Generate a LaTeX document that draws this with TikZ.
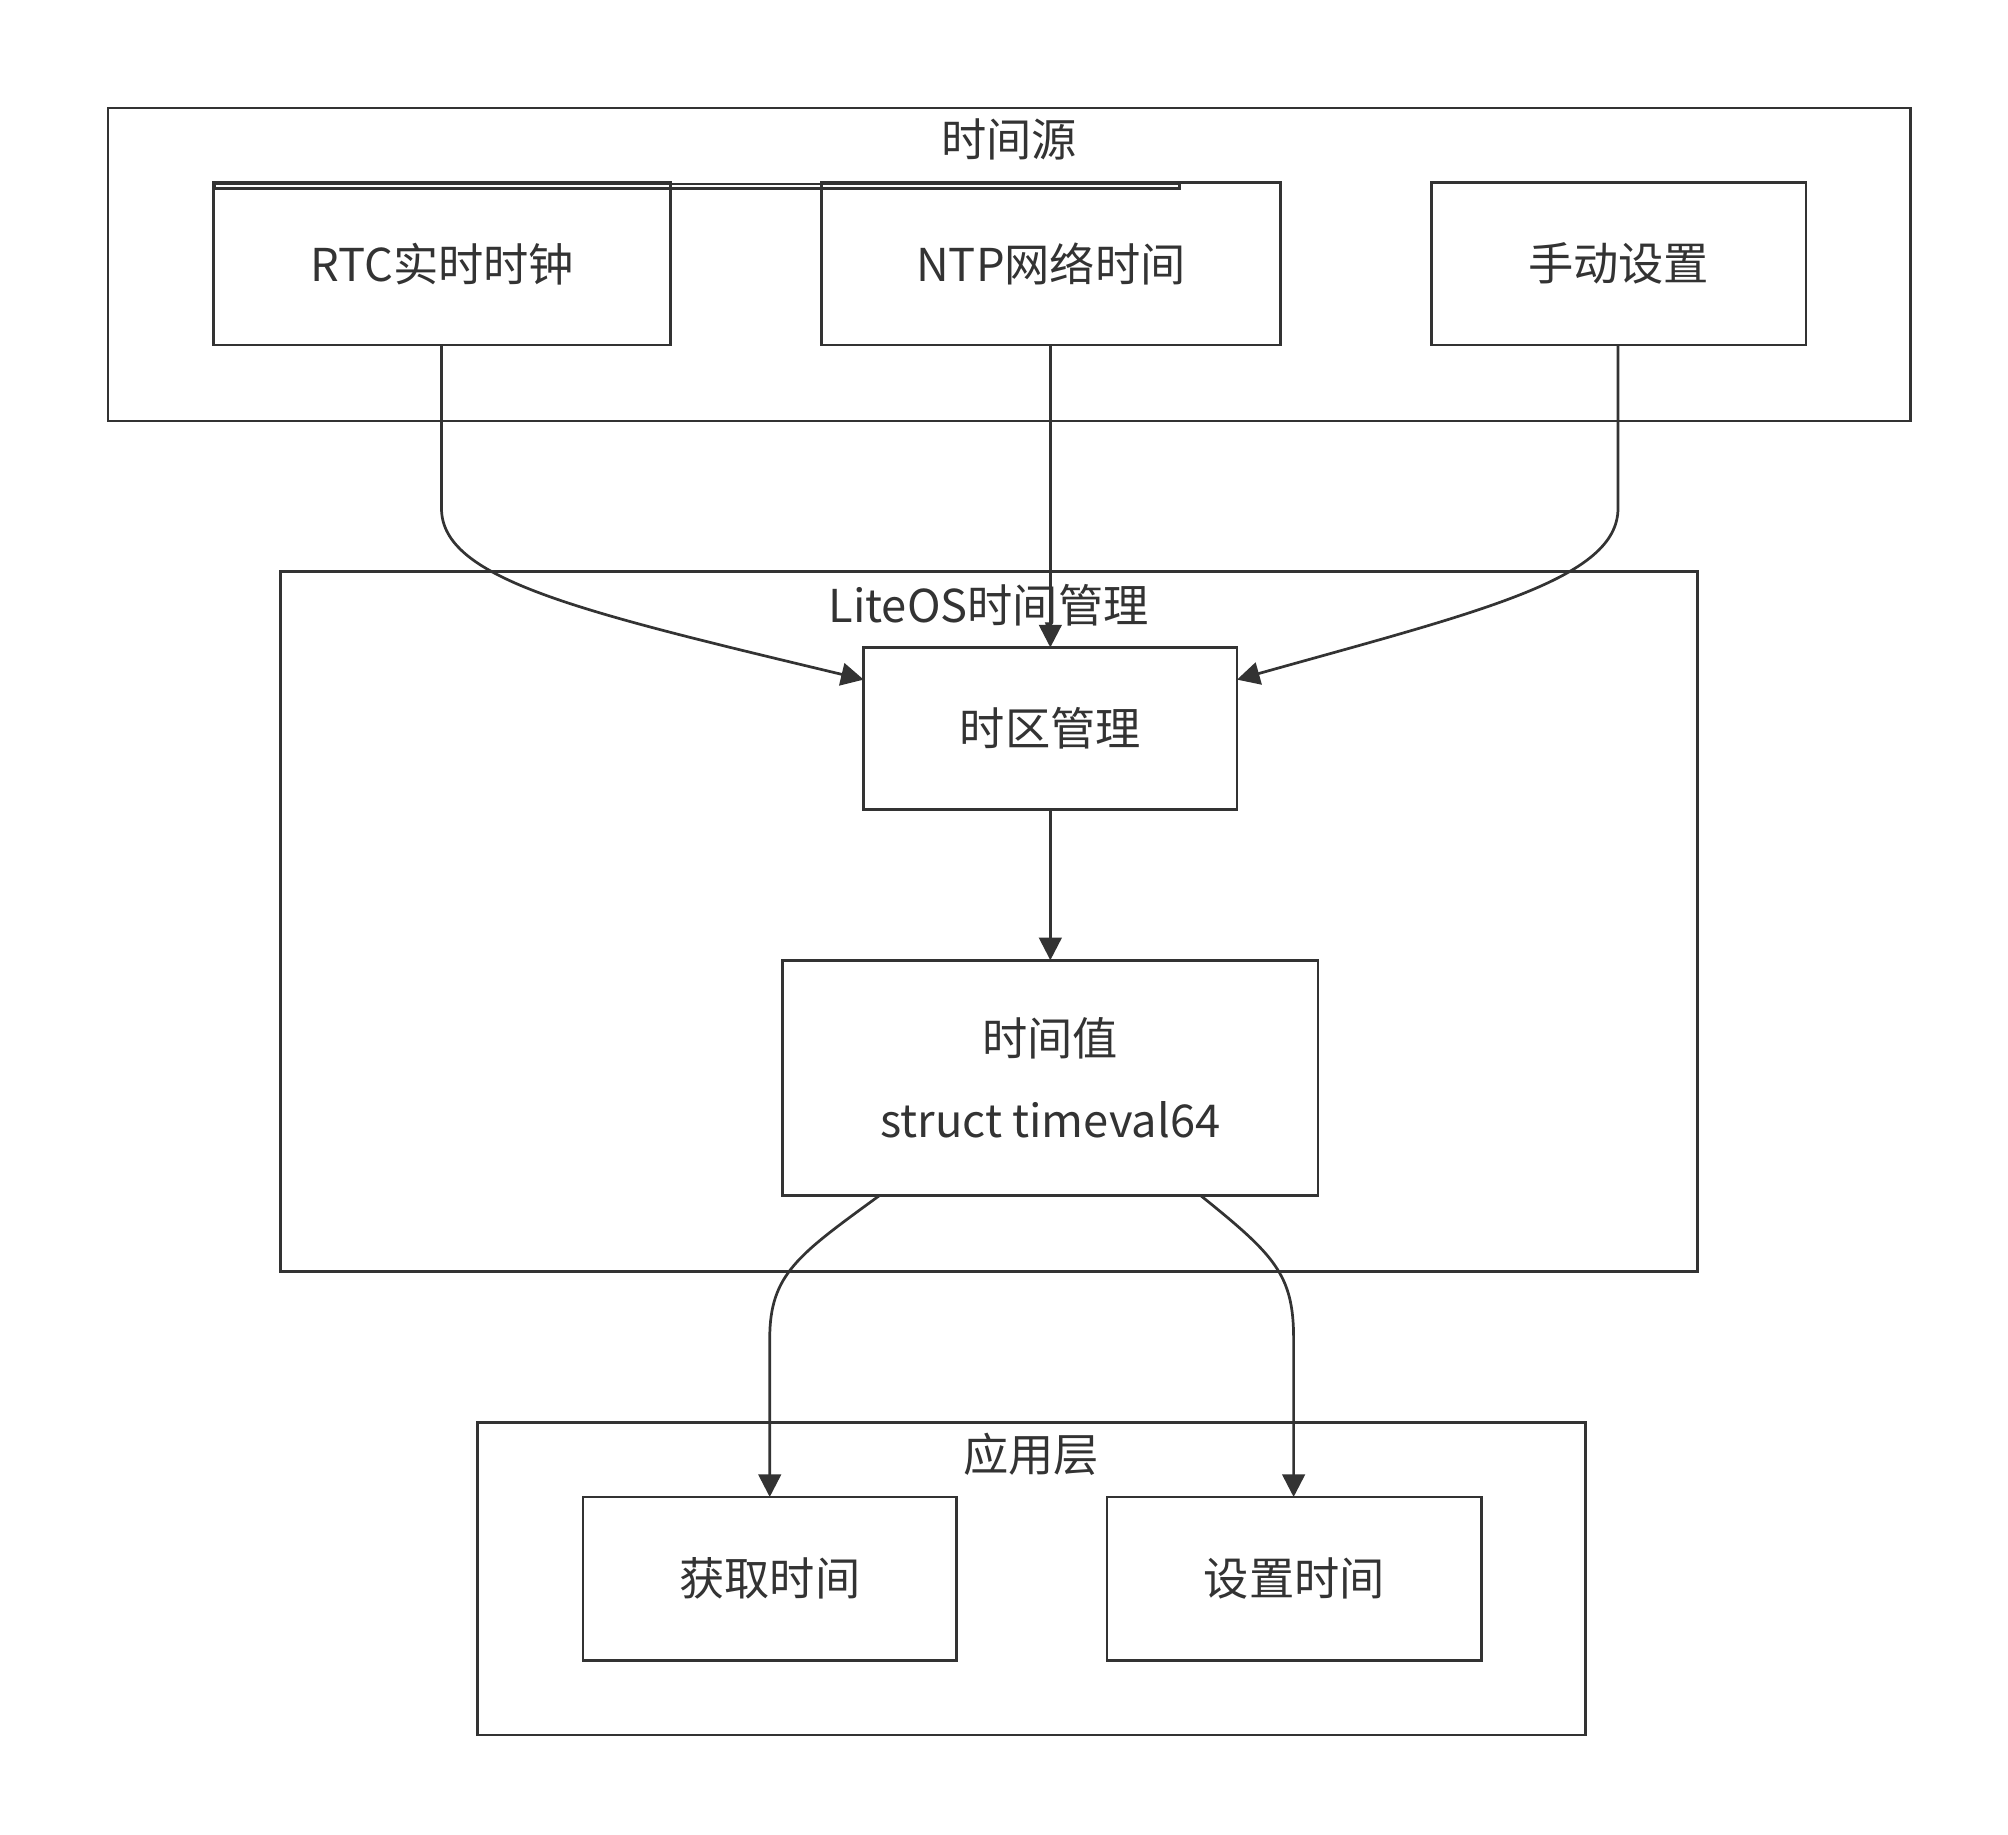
\documentclass[tikz,border=0pt]{standalone}
\usepackage{fontspec}
\setmainfont{Noto Sans CJK SC}
\usetikzlibrary{arrows.meta}
\definecolor{ln}{HTML}{333333}
\begin{document}
\begin{tikzpicture}[x=0.01cm,y=-0.01cm,
  every node/.style={font=\fontsize{10pt}{14pt}\selectfont,text=ln},
  box/.style={draw=ln,line width=0.6pt},
  arr/.style={draw=ln,line width=0.6pt,-{Triangle[length=5pt,width=5pt]}}]
\useasboundingbox (0,0) rectangle (1560,1425);
\draw[box] (84,84) rectangle (1484,327);
\node (t1) at (784,108) {时间源};
\draw[box] (218,444) rectangle (1319,988);
\node (t2) at (768,470) {LiteOS时间管理};
\draw[box] (371,1105) rectangle (1232,1348);
\node (t3) at (801,1130) {应用层};
\node[box,minimum width=355\pgflinewidth,anchor=north west,inner sep=0] (rtc) at (166,142) {};
\draw[box] (166,142) rectangle (521,268) node[midway] (rtcl) {RTC实时时钟};
\draw[box] (638,142) rectangle (995,268) node[midway] (ntpl) {NTP网络时间};
\draw[box] (1112,142) rectangle (1403,268) node[midway] (mnl) {手动设置};
\draw[box] (671,503) rectangle (961,629) node[midway] (tz) {时区管理};
\draw[box] (608,746) rectangle (1024,929) node[midway,align=center] (tv) {时间值\\[4pt]struct timeval64};
\draw[box] (453,1163) rectangle (743,1290) node[midway] (get) {获取时间};
\draw[box] (860,1163) rectangle (1151,1290) node[midway] (set) {设置时间};
\coordinate (a1) at (343,268); \coordinate (b1) at (671,528);
\coordinate (a2) at (816,268); \coordinate (b2) at (816,503);
\coordinate (a3) at (1257,268); \coordinate (b3) at (961,528);
\coordinate (c1) at (816,629); \coordinate (c2) at (816,746);
\coordinate (d1) at (683,929); \coordinate (e1) at (598,1163);
\coordinate (d2) at (933,929); \coordinate (e2) at (1005,1163);
\draw[arr] (a1) -- (343,395) .. controls (343,450) and (450,475) .. (b1);
\draw[arr] (a2) -- (b2);
\draw[arr] (a3) -- (1257,395) .. controls (1257,450) and (1150,475) .. (b3);
\draw[arr] (c1) -- (c2);
\draw[arr] (d1) .. controls (620,975) and (598,990) .. (598,1040) -- (e1);
\draw[arr] (d2) .. controls (990,975) and (1005,990) .. (1005,1040) -- (e2);
\end{tikzpicture}
\end{document}
